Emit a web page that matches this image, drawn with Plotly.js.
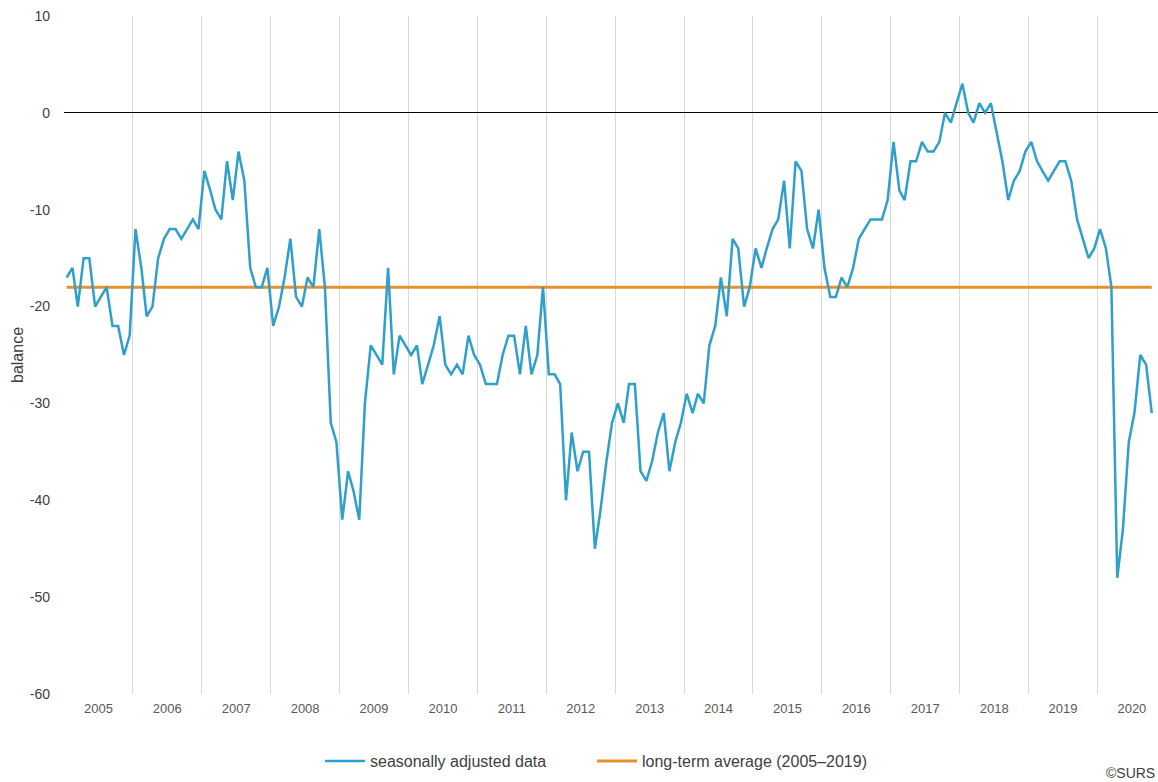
<!DOCTYPE html>
<html>
<head>
<meta charset="utf-8">
<script src="https://cdn.plot.ly/plotly-3.0.1.min.js"></script>
<style>html,body{margin:0;padding:0;background:#fff;}#chart{width:1158px;height:782px;}</style>
</head>
<body>
<div id="chart"></div>
<script>
// Monthly balance, seasonally adjusted (Jan 2005 – Oct 2020)
const startYear = 2005;
const v2005 = [-17, -16, -20, -15, -15, -20, -19, -18, -22, -22, -25, -23];
const v2006 = [-12, -16, -21, -20, -15, -13, -12, -12, -13, -12, -11, -12];
const v2007 = [-6, -8, -10, -11, -5, -9, -4, -7, -16, -18, -18, -16];
const v2008 = [-22, -20, -17, -13, -19, -20, -17, -18, -12, -18, -32, -34];
const v2009 = [-42, -37, -39, -42, -30, -24, -25, -26, -16, -27, -23, -24];
const v2010 = [-25, -24, -28, -26, -24, -21, -26, -27, -26, -27, -23, -25];
const v2011 = [-26, -28, -28, -28, -25, -23, -23, -27, -22, -27, -25, -18];
const v2012 = [-27, -27, -28, -40, -33, -37, -35, -35, -45, -41, -36, -32];
const v2013 = [-30, -32, -28, -28, -37, -38, -36, -33, -31, -37, -34, -32];
const v2014 = [-29, -31, -29, -30, -24, -22, -17, -21, -13, -14, -20, -18];
const v2015 = [-14, -16, -14, -12, -11, -7, -14, -5, -6, -12, -14, -10];
const v2016 = [-16, -19, -19, -17, -18, -16, -13, -12, -11, -11, -11, -9];
const v2017 = [-3, -8, -9, -5, -5, -3, -4, -4, -3, 0, -1, 1];
const v2018 = [3, 0, -1, 1, 0, 1, -2, -5, -9, -7, -6, -4];
const v2019 = [-3, -5, -6, -7, -6, -5, -5, -7, -11, -13, -15, -14];
const v2020 = [-12, -14, -18, -48, -43, -34, -31, -25, -26, -31];
const longTermAverage = -18;

const yTickVals = [10, 0, -10, -20, -30, -40, -50, -60];
const yTickText = ["10", "0", "-10", "-20", "-30", "-40", "-50", "-60"];

const seriesName = "seasonally adjusted data";
const avgName = "long-term average (2005\u20132019)";

const yearly = [v2005, v2006, v2007, v2008, v2009, v2010, v2011, v2012, v2013, v2014, v2015, v2016, v2017, v2018, v2019, v2020];
const dates = [], values = [];
yearly.forEach((arr, yi) => {
  arr.forEach((v, mi) => {
    const mm = String(mi + 1).padStart(2, "0");
    dates.push(`${startYear + yi}-${mm}-15`);
    values.push(v);
  });
});

const avgTrace = {
  x: [dates[0], dates[dates.length - 1]],
  y: [longTermAverage, longTermAverage],
  type: "scatter", mode: "lines",
  name: avgName,
  line: {color: "#E8902E", width: 3},
  legend: "legend2",
  hoverinfo: "skip"
};
const mainTrace = {
  x: dates, y: values,
  type: "scatter", mode: "lines",
  name: seriesName,
  line: {color: "#2F9FCB", width: 2.5},
  legend: "legend"
};

const legendCommon = {
  orientation: "h", xanchor: "left", yanchor: "middle", y: -0.0988,
  font: {size: 16, color: "#404040"}, itemwidth: 40, bgcolor: "rgba(0,0,0,0)"
};

const layout = {
  width: 1158, height: 782,
  margin: {l: 64, r: 0, t: 16, b: 88},
  paper_bgcolor: "#ffffff", plot_bgcolor: "#ffffff",
  font: {family: "Liberation Sans, Arial, sans-serif", color: "#404040", size: 12},
  showlegend: true,
  legend: Object.assign({}, legendCommon, {x: 0.234}),
  legend2: Object.assign({}, legendCommon, {x: 0.4826}),
  xaxis: {
    type: "date",
    range: ["2005-01-01", "2020-11-17"],
    tick0: "2005-01-01", dtick: "M12",
    tickformat: "%Y", ticklabelmode: "period",
    showgrid: true, gridcolor: "#d9d9d9", gridwidth: 1,
    showline: false, zeroline: false, ticks: "",
    ticklabelstandoff: 5,
    tickfont: {size: 13, color: "#595959"},
    fixedrange: true
  },
  yaxis: {
    range: [-60, 10],
    tickvals: yTickVals, ticktext: yTickText,
    showgrid: false, zeroline: true, zerolinecolor: "#000000", zerolinewidth: 1,
    showline: false, ticks: "",
    ticklabelstandoff: 13,
    tickfont: {size: 14, color: "#404040"},
    title: {text: "balance", font: {size: 16, color: "#404040"}, standoff: 2},
    fixedrange: true
  },
  annotations: [{
    text: "\u00A9SURS", xref: "paper", yref: "paper",
    x: 0.951, y: -0.1165, xanchor: "left", yanchor: "middle",
    showarrow: false, font: {size: 14, color: "#404040"}
  }]
};

Plotly.newPlot("chart", [avgTrace, mainTrace], layout, {displayModeBar: false, staticPlot: true});
</script>
</body>
</html>
